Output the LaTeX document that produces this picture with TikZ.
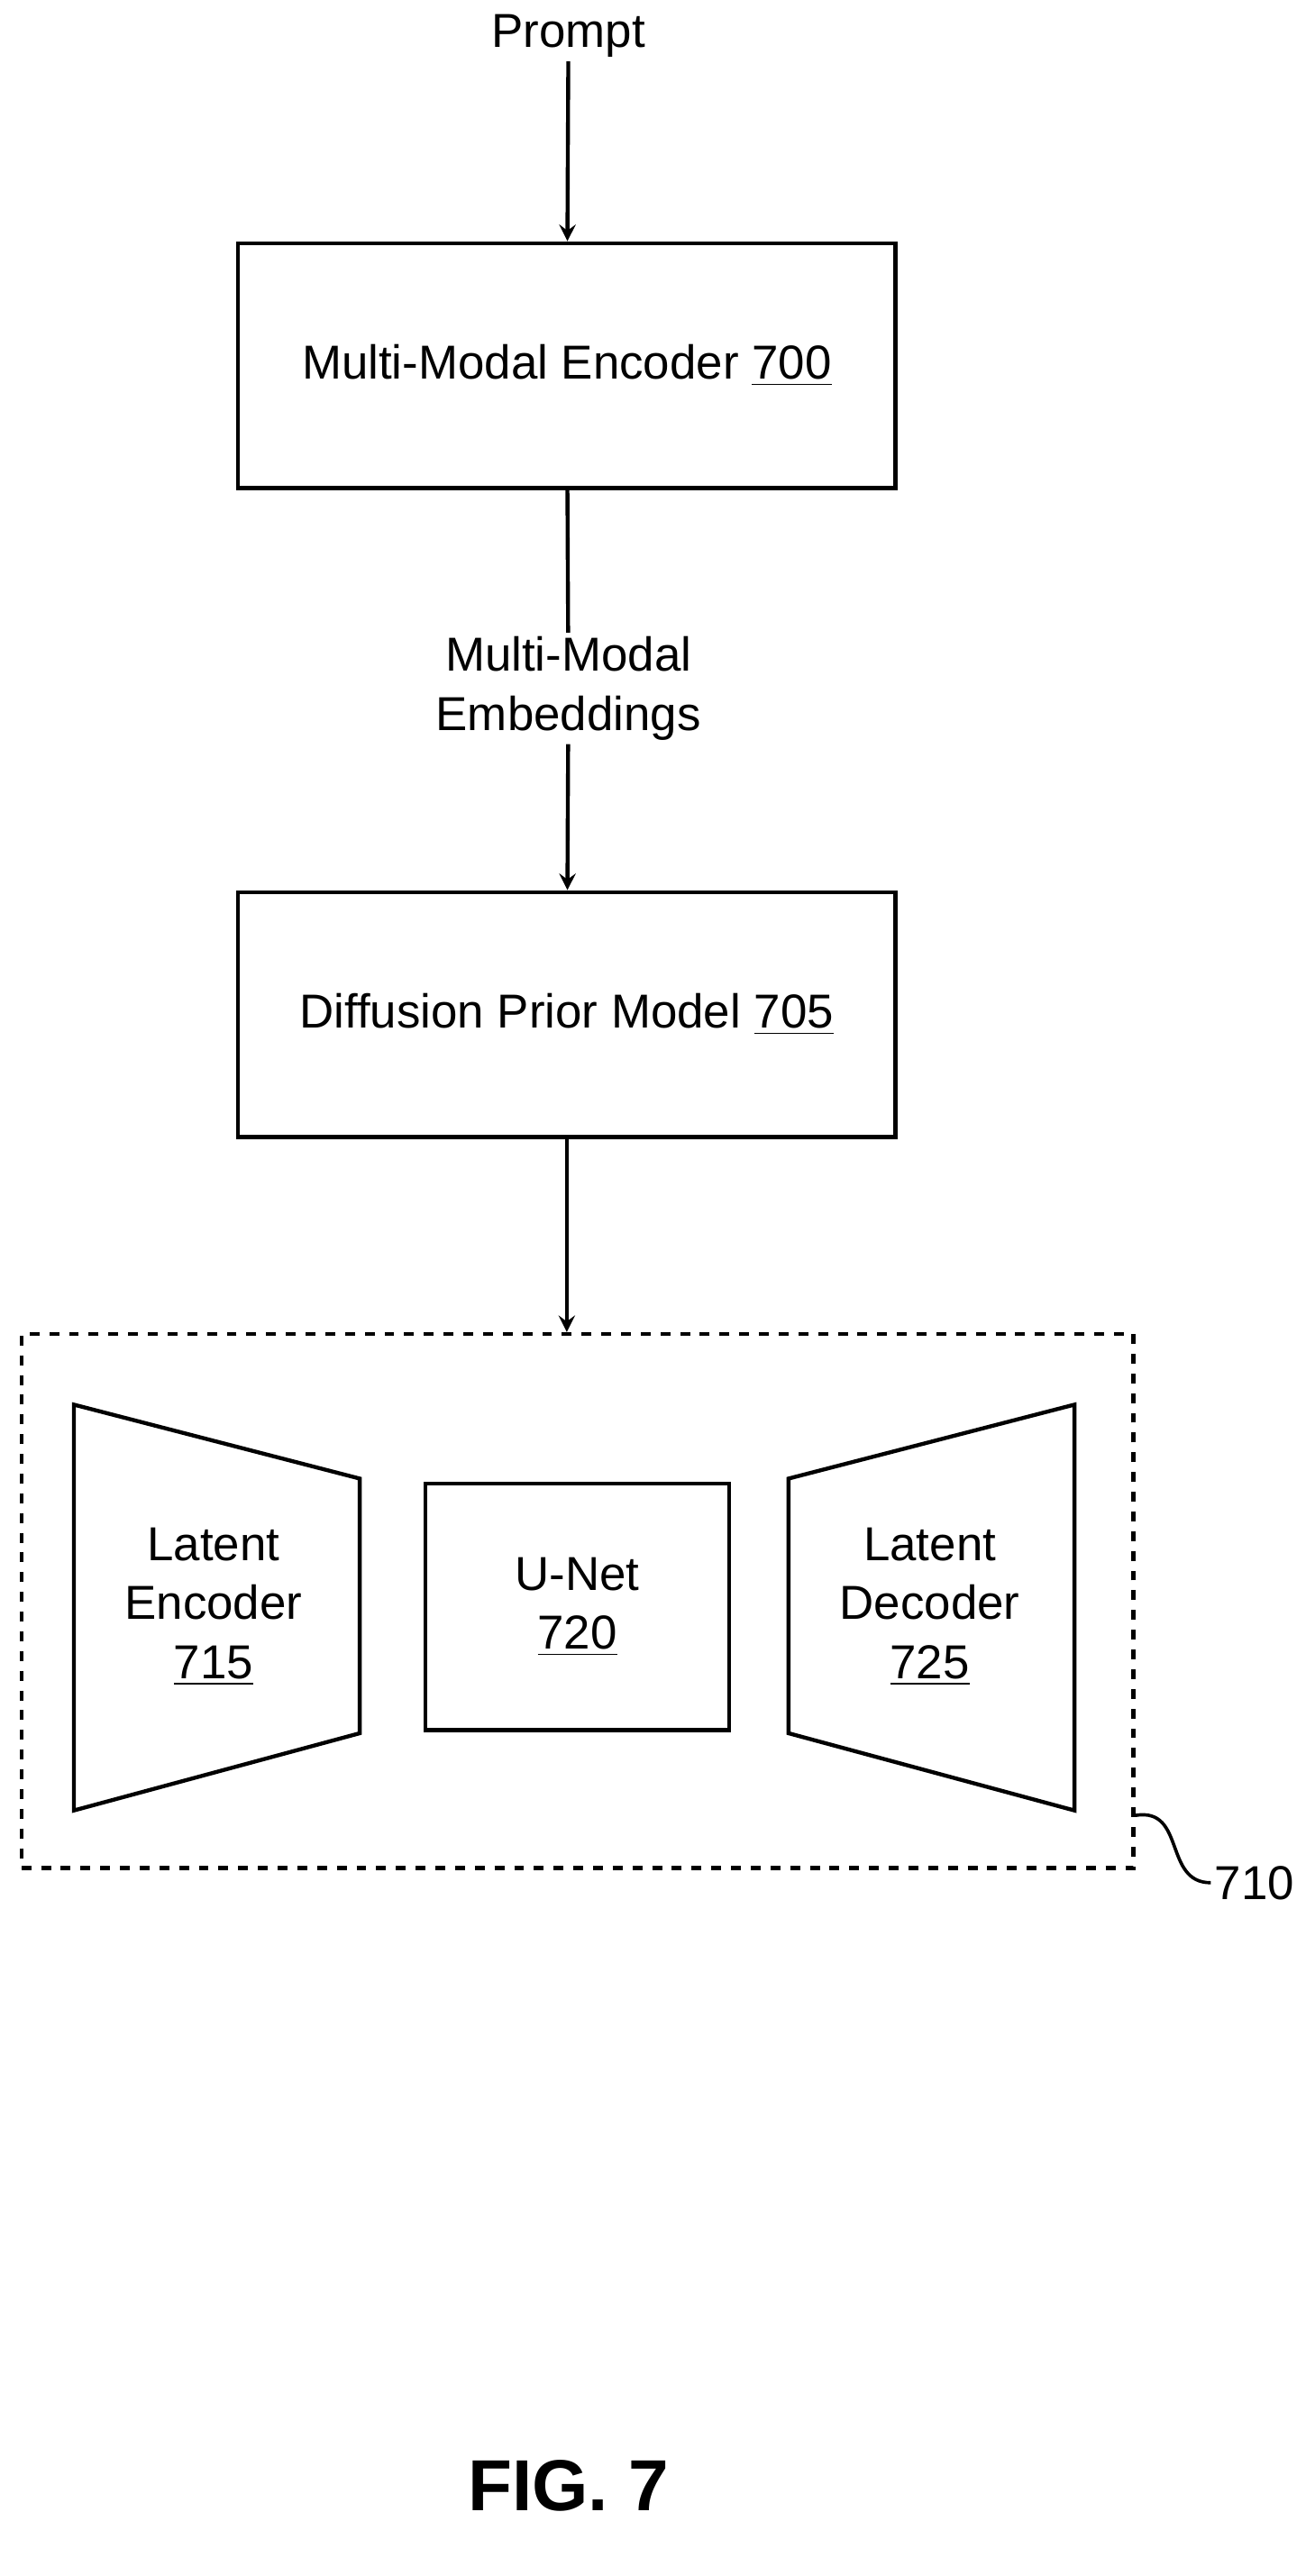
\documentclass[tikz,border=0pt]{standalone}
\usepackage{fontspec}
\setmainfont{Liberation Sans}
\usetikzlibrary{positioning}
\tikzset{
	block/.style={draw, rectangle, line width=1.2pt, inner sep=2pt, minimum width=200pt, minimum height=74.5pt},
	label/.style={inner sep=1pt, align=center},
	flow/.style={line width=1.2pt, ->, >=stealth},
}
\begin{document}
\begin{tikzpicture}[x=0.5pt, y=-0.5pt, font=\fontsize{14.5}{18}\selectfont]
	\useasboundingbox (0,0) rectangle (800,1568);
	
	\node (prompt) [label] at (346,22) {Prompt};
	\node (enc) [block] at (345,222.5) {Multi-Modal Encoder \underline{700}};
	\node (emb) [label] at (346,419) {Multi-Modal\\Embeddings};
	\node (prior) [block] at (345,617.5) {Diffusion Prior Model \underline{705}};
	\node (ldm) [draw, dashed, line width=1.2pt, minimum width=338.5pt, minimum height=162.5pt] at (351.5,974.5) {};
	
	% trapezoids
	\draw[line width=1.2pt] (45,855) -- (219,900) -- (219,1055) -- (45,1102) -- cycle;
	\draw[line width=1.2pt] (480,900) -- (654,855) -- (654,1102) -- (480,1055) -- cycle;
	\node (lenc) [label] at (130,978) {Latent\\Encoder\\\underline{715}};
	\node (unet) [draw, line width=1.2pt, minimum width=92.5pt, minimum height=75pt, align=center] at (351.5,978) {U-Net\\\underline{720}};
	\node (ldec) [label] at (566,978) {Latent\\Decoder\\\underline{725}};
	
	\node (ref) [label, anchor=west] at (737,1146) {710};
	\draw[line width=1pt] (ldm.east |- 0,1105) .. controls (722,1100) and (708,1146) .. (ref.west);
	
	\node (fig) [label, font=\fontsize{22}{26}\selectfont\bfseries] at (346,1513) {FIG. 7};
	
	\begin{scope}[flow]
		\draw (prompt) -- (enc);
		\draw[-] (enc) -- (emb);
		\draw (emb) -- (prior);
		\draw (prior) -- (ldm.north -| prior);
	\end{scope}
\end{tikzpicture}
\end{document}
